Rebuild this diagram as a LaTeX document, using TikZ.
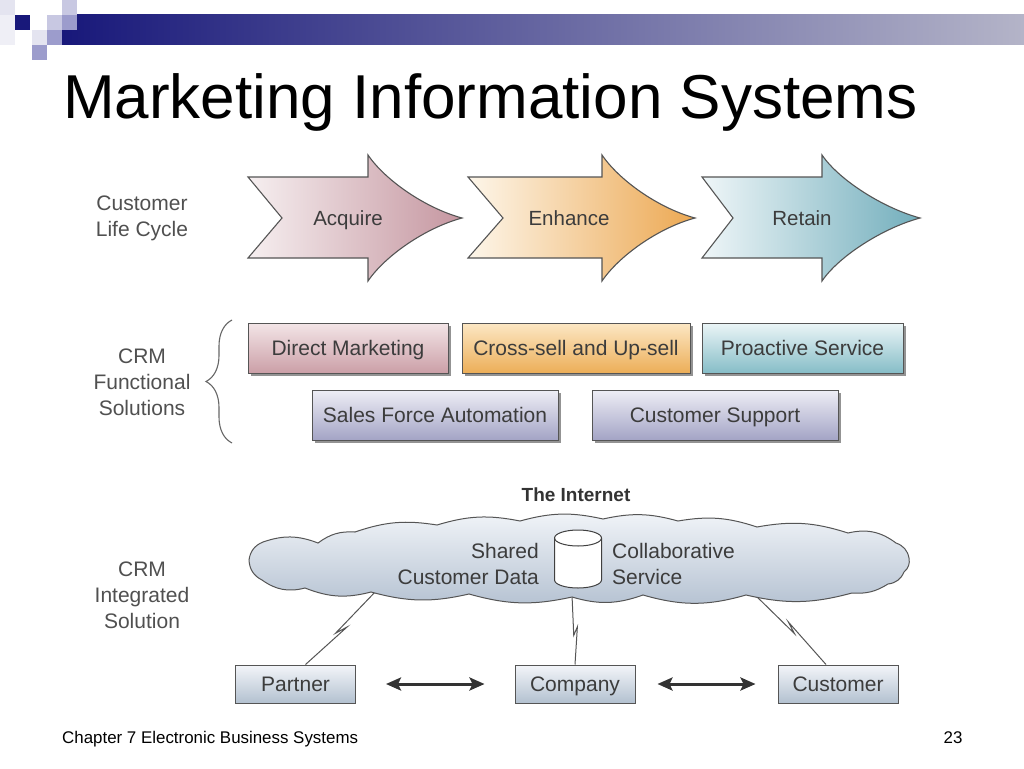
\documentclass[tikz,border=0pt]{standalone}
\usepackage{fontspec}
\setmainfont{Liberation Sans}
\usetikzlibrary{calc,shadows,decorations.pathreplacing,arrows.meta}
\definecolor{navyA}{HTML}{18187A}
\definecolor{navyB}{HTML}{B4B4C8}
\definecolor{lineg}{HTML}{555555}
\definecolor{labg}{HTML}{505050}
\definecolor{txtg}{HTML}{3C3C3C}
\definecolor{acqL}{HTML}{F6EFF0}
\definecolor{acqR}{HTML}{C596A0}
\definecolor{enhL}{HTML}{FDF6EA}
\definecolor{enhR}{HTML}{ECA852}
\definecolor{retL}{HTML}{EFF6F8}
\definecolor{retR}{HTML}{72AEBC}
\definecolor{dmT}{HTML}{F3E5E7}
\definecolor{dmB}{HTML}{CB9FA7}
\definecolor{csT}{HTML}{FCE7C4}
\definecolor{csB}{HTML}{ECAE58}
\definecolor{psT}{HTML}{EBF5F7}
\definecolor{psB}{HTML}{86BDC7}
\definecolor{sfT}{HTML}{EEEEF6}
\definecolor{sfB}{HTML}{A3A4C5}
\definecolor{ptT}{HTML}{F3F5F9}
\definecolor{ptB}{HTML}{B3C1D0}
\definecolor{clT}{HTML}{F1F4F8}
\definecolor{clB}{HTML}{B5C2D2}
\definecolor{sqA}{HTML}{E4E4F0}
\definecolor{sqB}{HTML}{C8C8E2}
\definecolor{sqC}{HTML}{9C9CCC}
\newcommand\lcarrow[6]{%
  \shadedraw[left color=#5,right color=#6,draw=lineg,line width=1.1pt,line join=miter]
    (#1,177) -- (#3,177) -- (#3,155)
    .. controls (#3+17,180) and (#4-37,208) .. (#4,218)
    .. controls (#4-37,228) and (#3+17,256) .. (#3,281)
    -- (#3,258) -- (#1,258) -- (#2,218) -- cycle;}
\begin{document}
\begin{tikzpicture}[x=1pt,y=-1pt,
  sidelabel/.style={align=center,text=labg,font=\fontsize{21}{26}\selectfont},
  arrowtext/.style={text=txtg,font=\fontsize{20.5}{24}\selectfont,text height=15pt,text depth=0.5pt},
  funcbox/.style={draw=lineg,line width=1pt,inner sep=0pt,minimum height=50pt,
    text=txtg,font=\fontsize{21}{24}\selectfont,text height=15pt,text depth=1pt,
    drop shadow={shadow xshift=2.5pt,shadow yshift=-2.5pt,fill=black!70,opacity=0.6}},
  partybox/.style={draw=lineg,line width=1pt,inner sep=0pt,minimum height=38pt,minimum width=120pt,
    top color=ptT,bottom color=ptB,text=txtg,font=\fontsize{21}{24}\selectfont,text height=15pt,text depth=1pt},
  link/.style={draw=lineg,line width=1pt},
  dblarrow/.style={draw=black!80,line width=3pt,{Stealth[length=15pt,width=13pt,inset=3pt]}-{Stealth[length=15pt,width=13pt,inset=3pt]}},
  cloudtext/.style={text=txtg,font=\fontsize{21}{26}\selectfont,inner sep=0pt}
]
\useasboundingbox (0,0) rectangle (1024,768);
\fill[white] (0,0) rectangle (1024,768);
% header
\shade[left color=navyA,right color=navyB] (62,15) rectangle (1024,45);
\fill[sqA] (0,0) rectangle (15,15);
\fill[sqA!60!white] (0,15) rectangle (15,45);
\fill[navyA] (15,15) rectangle (30,30);
\fill[sqB] (47,15) rectangle (62,30);
\fill[sqB] (62,0) rectangle (77,15);
\fill[sqC] (62,15) rectangle (77,30);
\fill[sqA] (32,30) rectangle (47,45);
\fill[sqC] (47,30) rectangle (62,45);
\fill[sqC] (32,45) rectangle (47,60);
% title
\node[anchor=base west,inner sep=0pt,font=\fontsize{62}{70}\selectfont] (title) at (63,118) {Marketing Information Systems};
% side labels
\node[sidelabel] (lcyc) at (142,218) {Customer\\Life Cycle};
\node[sidelabel] (lfun) at (142,382) {CRM\\Functional\\Solutions};
\node[sidelabel] (lint) at (142,595) {CRM\\Integrated\\Solution};
% life cycle arrows
\lcarrow{248}{282}{368}{462}{acqL}{acqR}
\lcarrow{468}{503}{602}{695}{enhL}{enhR}
\lcarrow{702}{733}{822}{920}{retL}{retR}
\node[arrowtext] (acq) at (348,218) {Acquire};
\node[arrowtext] (enh) at (569,218) {Enhance};
\node[arrowtext] (ret) at (802,218) {Retain};
% brace
\draw[decorate,decoration={brace,amplitude=26pt,aspect=0.5},draw=black!60,line width=1.1pt] (232,443) -- (232,320);
% functional boxes
\node[funcbox,minimum width=200pt,top color=dmT,bottom color=dmB] (dm) at (348,348) {Direct Marketing};
\node[funcbox,minimum width=228pt,top color=csT,bottom color=csB] (cs) at (576,348) {Cross-sell and Up-sell};
\node[funcbox,minimum width=201pt,top color=psT,bottom color=psB] (ps) at (802.5,348) {Proactive Service};
\node[funcbox,minimum width=246pt,top color=sfT,bottom color=sfB] (sfa) at (435,415) {Sales Force Automation};
\node[funcbox,minimum width=246pt,top color=sfT,bottom color=sfB] (csup) at (715,415) {Customer Support};
% bottom parties
\node[partybox] (partner) at (295.5,684) {Partner};
\node[partybox] (company) at (575,684) {Company};
\node[partybox] (customer) at (838,684) {Customer};
\coordinate (cl1) at (377,590);
\coordinate (cl2) at (572,595);
\coordinate (cl3) at (751,591);
\coordinate (pp) at ($(partner.north)+(10,0)$);
\coordinate (cp) at (company.north);
\coordinate (up) at ($(customer.north)+(-12,0)$);
\draw[link] (cl1) -- ($(cl1)!0.58!(pp)$) -- ($(cl1)!0.46!(pp)!4pt!90:(pp)$) -- (pp);
\draw[link] (cl2) -- ($(cl2)!0.58!(cp)$) -- ($(cl2)!0.46!(cp)!4pt!90:(cp)$) -- (cp);
\draw[link] (cl3) -- ($(cl3)!0.58!(up)$) -- ($(cl3)!0.46!(up)!4pt!90:(up)$) -- (up);
\draw[dblarrow,shorten <=30pt,shorten >=30pt] (partner.east) -- (company.west);
\draw[dblarrow,shorten <=22pt,shorten >=22pt] (company.east) -- (customer.west);
% cloud
\shadedraw[top color=clT,bottom color=clB,draw=lineg,line width=1pt]
  (249,560) to[bend left=30] (263,542) to[bend left=20] (318,543) to[bend left=20] (355,532)
  to[bend left=14] (437,525) to[bend left=14] (520,521) to[bend left=14] (603,519)
  to[bend left=14] (678,521) to[bend left=14] (757,527) to[bend left=14] (848,533)
  to[bend left=25] (896,543) to[bend left=30] (909,558) to[bend left=30] (904,572)
  to[bend left=30] (888,584) to[bend left=18] (852,593) to[bend left=14] (746,595)
  to[bend left=16] (643,595) to[bend left=18] (572,597) to[bend left=14] (469,594)
  to[bend left=14] (371,592) to[bend left=18] (305,588) to[bend left=25] (262,580)
  to[bend left=30] (249,560) -- cycle;
\node[font=\bfseries\fontsize{19}{22}\selectfont,text=black!80] (inet) at (576,495) {The Internet};
% database cylinder
\filldraw[fill=white,draw=black!75,line width=1pt]
  (554.5,538) -- (554.5,580) arc[start angle=180,end angle=360,x radius=23.5pt,y radius=8pt]
  -- (601.5,538) arc[start angle=0,end angle=180,x radius=23.5pt,y radius=8pt] -- cycle;
\draw[draw=black!75,line width=1pt] (554.5,538) arc[start angle=180,end angle=360,x radius=23.5pt,y radius=8pt];
\node[cloudtext,anchor=east,align=right] (shared) at (539,564) {Shared\\Customer Data};
\node[cloudtext,anchor=west,align=left] (collab) at (612,564) {Collaborative\\Service};
% footer
\node[anchor=base west,inner sep=0pt,font=\fontsize{16.9}{20}\selectfont] (foot) at (62,743) {Chapter 7 Electronic Business Systems};
\node[anchor=base,inner sep=0pt,font=\fontsize{16.9}{20}\selectfont] (pnum) at (953,743) {23};
\end{tikzpicture}
\end{document}
